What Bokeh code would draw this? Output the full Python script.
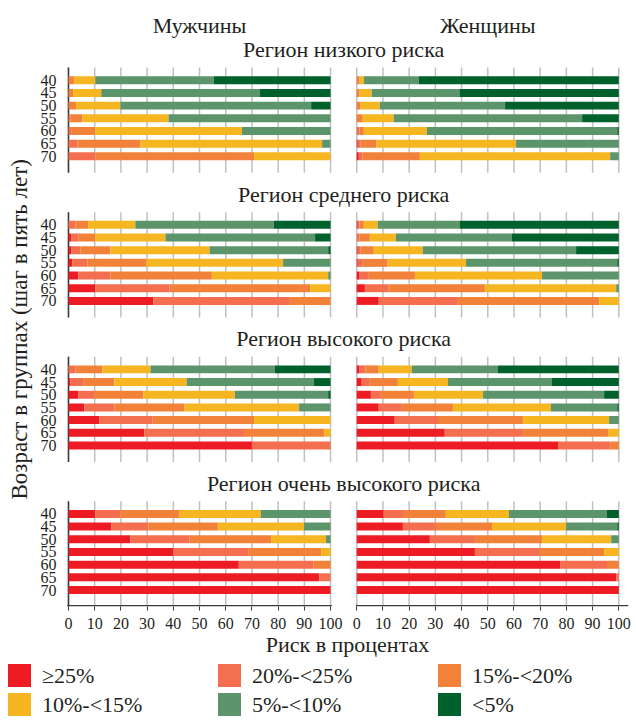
import html
import numpy as np
from bokeh.plotting import figure
from bokeh.models import Range1d, FixedTicker, ColumnDataSource, Title, Div
from bokeh.layouts import column
from bokeh.core.properties import value
from bokeh.embed import file_html
from bokeh.resources import INLINE

# ---------------- data ----------------
ages = ["40", "45", "50", "55", "60", "65", "70"]
categories = ["≥25%", "20%-<25%", "15%-<20%", "10%-<15%", "5%-<10%", "<5%"]
colors = ["#ED1C24", "#F36F50", "#F2823A", "#F6B622", "#5C946B", "#00612C"]
sexes = ["Мужчины", "Женщины"]
regions = ["Регион низкого риска", "Регион среднего риска",
           "Регион высокого риска", "Регион очень высокого риска"]
x_ticks = [0, 10, 20, 30, 40, 50, 60, 70, 80, 90, 100]

# shares (%) per age row: [>=25, 20-25, 15-20, 10-15, 5-10, <5]
men_low = [
    [0, 0, 2.2, 8.0, 45.2, 44.6],
    [0, 0, 1.8, 10.7, 60.6, 26.9],
    [0, 0, 2.9, 16.9, 72.8, 7.4],
    [0, 0.8, 4.4, 33.0, 61.8, 0],
    [0, 1.0, 9.2, 56.0, 33.8, 0],
    [0, 3.4, 24.1, 69.3, 3.2, 0],
    [0, 10.2, 60.6, 29.2, 0, 0],
]
women_low = [
    [0, 0, 1.1, 1.6, 21.0, 76.3],
    [0, 0, 1.1, 4.6, 33.7, 60.6],
    [0, 0, 1.5, 7.3, 47.8, 43.4],
    [0, 0, 2.3, 11.8, 71.9, 14.0],
    [0, 1.1, 1.6, 24.1, 72.6, 0.6],
    [0.4, 1.1, 6.1, 53.2, 39.2, 0],
    [0.8, 1.5, 21.8, 72.6, 3.3, 0],
]
men_mid = [
    [0, 2.6, 4.9, 18.0, 52.9, 21.6],
    [1.0, 2.7, 6.5, 26.8, 57.1, 5.9],
    [1.0, 3.5, 11.5, 37.9, 45.2, 0.9],
    [1.4, 5.8, 22.6, 52.1, 18.1, 0],
    [3.7, 12.3, 38.7, 44.4, 0.9, 0],
    [10.2, 28.4, 53.6, 7.8, 0, 0],
    [32.4, 52.1, 15.5, 0, 0, 0],
]
women_mid = [
    [0.4, 0.7, 1.6, 5.3, 31.4, 60.6],
    [0, 1.1, 3.9, 9.9, 44.3, 40.8],
    [0.4, 1.1, 5.0, 18.7, 58.5, 16.3],
    [0.4, 1.9, 9.5, 29.9, 57.7, 0.6],
    [1.1, 3.5, 17.6, 48.5, 29.3, 0],
    [3.1, 9.1, 36.7, 50.1, 1.0, 0],
    [8.4, 30.2, 53.9, 7.5, 0, 0],
]
men_high = [
    [0, 2.6, 10.3, 18.4, 47.5, 21.2],
    [0.6, 5.0, 11.9, 27.6, 48.6, 6.3],
    [3.7, 6.1, 18.8, 34.9, 35.6, 0.9],
    [6.0, 11.5, 26.8, 43.7, 12.0, 0],
    [11.7, 20.4, 38.7, 29.2, 0, 0],
    [29.0, 38.3, 30.3, 2.4, 0, 0],
    [70.0, 30.0, 0, 0, 0, 0],
]
women_high = [
    [1.1, 2.3, 5.0, 12.6, 32.9, 46.1],
    [1.9, 3.1, 10.7, 19.1, 39.7, 25.5],
    [5.4, 3.8, 12.6, 26.4, 46.2, 5.6],
    [8.4, 8.8, 19.5, 37.4, 25.3, 0.6],
    [14.5, 16.5, 32.4, 32.9, 3.7, 0],
    [33.6, 29.8, 32.5, 4.1, 0, 0],
    [76.8, 19.9, 3.3, 0, 0, 0],
]
men_vhigh = [
    [10.2, 9.6, 22.6, 31.0, 26.6, 0],
    [16.3, 14.2, 26.5, 32.9, 10.1, 0],
    [23.6, 22.6, 31.1, 21.0, 1.7, 0],
    [40.1, 28.7, 27.6, 3.6, 0, 0],
    [65.0, 28.4, 6.6, 0, 0, 0],
    [95.7, 4.3, 0, 0, 0, 0],
    [100.0, 0, 0, 0, 0, 0],
]
women_vhigh = [
    [10.3, 7.7, 16.0, 24.1, 37.4, 4.5],
    [17.6, 13.0, 21.0, 28.3, 19.5, 0.6],
    [27.9, 17.2, 25.6, 26.4, 2.9, 0],
    [45.1, 24.8, 24.5, 5.6, 0, 0],
    [77.6, 17.9, 4.5, 0, 0, 0],
    [99.0, 1.0, 0, 0, 0, 0],
    [100.0, 0, 0, 0, 0, 0],
]

panels = [
    [men_low, women_low],
    [men_mid, women_mid],
    [men_high, women_high],
    [men_vhigh, women_vhigh],
]

# ---------------- layout constants ----------------
FONT = "Liberation Serif"
TXT = "#231f20"
ROW = 5          # y units between age rows
PANEL = 57       # y units between region panels
XOFF = 110       # x offset of the women's panel
BAR_H = 3.15
W = 636

p = figure(width=W, height=659,
           x_range=Range1d(-0.76, 213.7), y_range=Range1d(-207.5, 28.3),
           output_backend="svg", toolbar_location=None,
           min_border_left=66, min_border_right=8,
           min_border_top=8, min_border_bottom=52)
p.outline_line_color = None
p.xgrid.visible = False
p.ygrid.visible = False

# gridlines and panel axis lines
gx0, gy0, gx1, gy1 = [], [], [], []
ax0, ay0, ax1, ay1 = [], [], [], []
for r in range(len(regions)):
    top = -(r * PANEL) + 5
    bottom = -(r * PANEL + (len(ages) - 1) * ROW) - 6.5
    for s in range(2):
        for t in x_ticks:
            gx0.append(s * XOFF + t); gx1.append(s * XOFF + t)
            gy0.append(top); gy1.append(bottom)
    ax0.append(0); ax1.append(0); ay0.append(top); ay1.append(bottom)
p.segment(gx0, gy0, gx1, gy1, line_color="#c0c0c0", line_width=1.5)
p.segment(ax0, ay0, ax1, ay1, line_color="#3a3a3a", line_width=1.5)

# bottom axis lines (one per sex panel)
yb = -207.5 + 0.3
p.segment([-0.5, XOFF - 0.3], [yb, yb], [100.5, 213.7], [yb, yb],
          line_color="#3a3a3a", line_width=1.5)

# bars
cols = {f"l{k}": [] for k in range(6)}
cols.update({f"r{k}": [] for k in range(6)})
cols["y"] = []
y_ticks = []
for r, pair in enumerate(panels):
    ys = [-(r * PANEL + i * ROW) for i in range(len(ages))]
    y_ticks.extend(ys)
    for s, rows in enumerate(pair):
        arr = np.array(rows, dtype=float)
        cum = np.cumsum(arr, axis=1)
        left = cum - arr
        cols["y"].extend(ys)
        for k in range(6):
            cols[f"l{k}"].extend(list(left[:, k] + s * XOFF))
            cols[f"r{k}"].extend(list(cum[:, k] + s * XOFF))
src = ColumnDataSource(cols)
for k in range(6):
    p.hbar(y="y", left=f"l{k}", right=f"r{k}", height=BAR_H, source=src,
           fill_color=colors[k], line_color=None)

# headers and region titles
p.text(x=[50, XOFF + 50], y=[21.7, 21.7], text=sexes,
       text_font=value(FONT), text_font_size="22px", text_color=TXT,
       text_align="center", text_baseline="middle")
p.text(x=[105] * len(regions), y=[-(r * PANEL) + 12 for r in range(len(regions))],
       text=regions, text_font=value(FONT), text_font_size="22px", text_color=TXT,
       text_align="center", text_baseline="middle")

# y axis
p.yaxis.ticker = FixedTicker(ticks=y_ticks)
p.yaxis.major_label_overrides = {y: ages[i % len(ages)] for i, y in enumerate(y_ticks)}
p.yaxis.axis_line_color = None
p.yaxis.major_tick_line_color = None
p.yaxis.minor_tick_line_color = None
p.yaxis.major_label_standoff = 4
p.yaxis.major_label_text_font = FONT
p.yaxis.major_label_text_font_size = "16px"
p.yaxis.major_label_text_color = TXT

# rotated y title: starts ~107 px above the frame bottom
p.add_layout(Title(text="Возраст в группах (шаг в пять лет)", align="left",
                   vertical_align="middle", offset=107, standoff=10,
                   text_font=FONT, text_font_size="23px", text_font_style="normal",
                   text_color=TXT), "left")

# x axis
xt_all = x_ticks + [XOFF + t for t in x_ticks]
p.xaxis.ticker = FixedTicker(ticks=xt_all)
ov = {t: str(t) for t in x_ticks}
ov.update({XOFF + t: str(t) for t in x_ticks})
p.xaxis.major_label_overrides = ov
p.xaxis.axis_line_color = None
p.xaxis.major_tick_out = 4
p.xaxis.major_tick_in = 0
p.xaxis.major_tick_line_color = "#3a3a3a"
p.xaxis.minor_tick_line_color = None
p.xaxis.major_label_standoff = 7
p.xaxis.major_label_text_font = FONT
p.xaxis.major_label_text_font_size = "16px"
p.xaxis.major_label_text_color = TXT
p.xaxis.axis_label = "Риск в процентах"
p.xaxis.axis_label_text_font = FONT
p.xaxis.axis_label_text_font_size = "22px"
p.xaxis.axis_label_text_font_style = "normal"
p.xaxis.axis_label_text_color = TXT
p.xaxis.axis_label_standoff = 0

# ---------------- legend (HTML block under the chart) ----------------
LG_H = 59
col_left = [8, 218, 438]
row_top = [5, 34]
SQ = 23
FONT_CSS = "font-family:'Liberation Serif','Times New Roman',serif;font-size:22px;"
parts = []
for i, cat in enumerate(categories):
    c, rr = i % 3, i // 3
    x0, y0 = col_left[c], row_top[rr]
    parts.append(f'<div style="position:absolute;left:{x0}px;top:{y0}px;width:{SQ}px;'
                 f'height:{SQ}px;background:{colors[i]};"></div>')
    parts.append(f'<div style="position:absolute;left:{x0 + 34}px;top:{y0}px;'
                 f'height:{SQ}px;line-height:{SQ}px;white-space:nowrap;{FONT_CSS}color:{TXT};">'
                 f'{html.escape(cat)}</div>')
legend_html = (f'<div style="position:relative;width:{W}px;height:{LG_H}px;overflow:hidden;'
               f'{FONT_CSS}color:{TXT};">' + "".join(parts) + '</div>')
legend = Div(text=legend_html, width=W, height=LG_H, margin=(0, 0, 0, 0),
             styles={"font-family": "'Liberation Serif', serif", "font-size": "22px"})

layout = column(p, legend, spacing=0)
open("out.html", "w").write(file_html(layout, INLINE))
